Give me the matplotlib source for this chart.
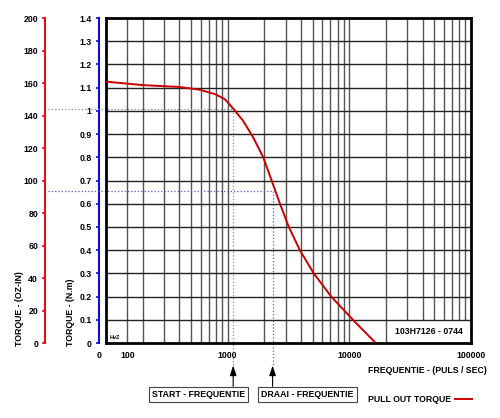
import matplotlib
matplotlib.use("Agg")
import matplotlib.pyplot as plt
import numpy as np

plt.rcParams['font.family'] = ['Liberation Sans', 'DejaVu Sans']
plt.rcParams['font.weight'] = 'bold'
plt.rcParams['font.size'] = 6.3

# pull out torque curve
freq = [100, 200, 400, 590, 790, 950, 1110, 1340, 1620, 1961, 2298, 2690,
        3180, 3920, 5100, 7100, 10700, 16200]
torque = [1.126, 1.111, 1.103, 1.091, 1.072, 1.050, 1.010, 0.957, 0.886, 0.800,
          0.700, 0.600, 0.500, 0.400, 0.300, 0.200, 0.100, 0.004]

start_freq, start_torque = 1110, 1.01
draai_freq, draai_torque = 2340, 0.655

x_grid = [150, 200, 300, 400, 500, 600, 700, 800, 900,
          1000, 2000, 3000, 4000, 5000, 6000, 7000, 8000, 9000,
          10000, 20000, 30000, 40000, 50000, 60000, 70000, 80000, 90000]
y_grid = np.round(np.arange(0.1, 1.35, 0.1), 1)

x_tick_pos = [150, 1000, 10000, 100000]
x_tick_labels = ['100', '1000', '10000', '100000']
nm_ticks = np.round(np.arange(0, 1.45, 0.1), 1)
nm_labels = ['0', '0.1', '0.2', '0.3', '0.4', '0.5', '0.6', '0.7', '0.8', '0.9',
             '1', '1.1', '1.2', '1.3', '1.4']
oz_ticks = list(range(0, 201, 20))

rect = [0.212, 0.1794, 0.73, 0.7775]
fig = plt.figure(figsize=(5, 4.18), dpi=100)

# red oz-in axis
axr = fig.add_axes(rect, facecolor='none')
axr.set_ylim(0, 200)
axr.set_yticks(oz_ticks)
axr.set_xticks([])
for s in ['top', 'right', 'bottom']:
    axr.spines[s].set_visible(False)
axr.spines['left'].set_position(('outward', 43.9))
axr.spines['left'].set_color('#dd1111')
axr.spines['left'].set_linewidth(1.5)
axr.tick_params(axis='y', color='#dd1111', length=2, width=1.2, pad=3)

# blue N.m axis
axb = fig.add_axes(rect, facecolor='none')
axb.set_ylim(0, 1.4)
axb.set_yticks(nm_ticks)
axb.set_yticklabels(nm_labels)
axb.set_xticks([])
for s in ['top', 'right', 'bottom']:
    axb.spines[s].set_visible(False)
axb.spines['left'].set_position(('outward', 5))
axb.spines['left'].set_color('#1111cc')
axb.spines['left'].set_linewidth(1.5)
axb.tick_params(axis='y', color='#1111cc', length=2.2, width=1.2, pad=3)

# main chart
ax = fig.add_axes(rect, facecolor='none')
ax.set_xscale('log')
ax.set_xlim(100, 100000)
ax.set_ylim(0, 1.4)
ax.set_yticks([])
ax.set_xticks(x_tick_pos)
ax.set_xticklabels(x_tick_labels)
ax.xaxis.set_minor_locator(matplotlib.ticker.NullLocator())
ax.tick_params(axis='x', length=0, pad=5.5)
for s in ax.spines.values():
    s.set_linewidth(2)
    s.set_color('black')

for xv in x_grid:
    y0 = 0.1 if xv > 20000 else 0
    ax.vlines(xv, y0, 1.4, color='#555555', lw=1.0, zorder=1)
ax.hlines(y_grid, 100, 100000, color='#222222', lw=1.0, zorder=1)

ax.plot(freq, torque, color='#cc0000', lw=1.4, zorder=3, label='PULL OUT TORQUE')

# helper lines for start / draai frequency
x_left = 10 ** (2 - 0.159 * 3)
y_tip = -0.097
y_box = -0.187
ax.plot([x_left, start_freq], [start_torque, start_torque], ':', color='#8888aa',
        lw=0.9, clip_on=False, zorder=2)
ax.plot([start_freq, start_freq], [start_torque, y_tip], ':', color='#8888aa',
        lw=0.9, clip_on=False, zorder=2)
ax.plot([x_left, draai_freq], [draai_torque, draai_torque], ':', color='#5555cc',
        lw=0.9, clip_on=False, zorder=2)
ax.plot([draai_freq, draai_freq], [draai_torque, y_tip], ':', color='#5555cc',
        lw=0.9, clip_on=False, zorder=2)

for f in [start_freq, draai_freq]:
    ax.annotate('', xy=(f, y_tip), xytext=(f, y_box), annotation_clip=False,
                arrowprops=dict(arrowstyle='-|>,head_length=0.6,head_width=0.2',
                                color='black', lw=0.8, mutation_scale=10,
                                shrinkA=0, shrinkB=0))

box = dict(boxstyle='square,pad=0.35', facecolor='white', edgecolor='#444444', lw=0.8)
ax.text(0.2534, -0.1585, 'START - FREQUENTIE', transform=ax.transAxes,
        ha='center', va='center', bbox=box)
ax.text(0.552, -0.1585, 'DRAAI - FREQUENTIE', transform=ax.transAxes,
        ha='center', va='center', bbox=box)

ax.text(-0.019, -0.037, '0', transform=ax.transAxes, ha='center', va='center')
ax.text(1.0438, -0.086, 'FREQUENTIE - (PULS / SEC)', transform=ax.transAxes,
        ha='right', va='center')
ax.text(-0.0986, -0.009, 'TORQUE - (N.m)', transform=ax.transAxes, rotation=90,
        ha='center', va='bottom')
ax.text(-0.238, -0.009, 'TORQUE - (OZ-IN)', transform=ax.transAxes, rotation=90,
        ha='center', va='bottom')
ax.text(0.011, 0.017, 'HvZ', transform=ax.transAxes, fontsize=4, ha='left', va='center')
ax.text(np.sqrt(20000 * 100000), 0.05, '103H7126 - 0744', ha='center', va='center')

ax.legend(loc='center right', bbox_to_anchor=(1.003, -0.175), frameon=False,
          markerfirst=False, borderpad=0, borderaxespad=0, handlelength=1.95,
          handletextpad=0.45, prop={'weight': 'bold', 'size': 6.3})

fig.savefig('out.png', dpi=100)
